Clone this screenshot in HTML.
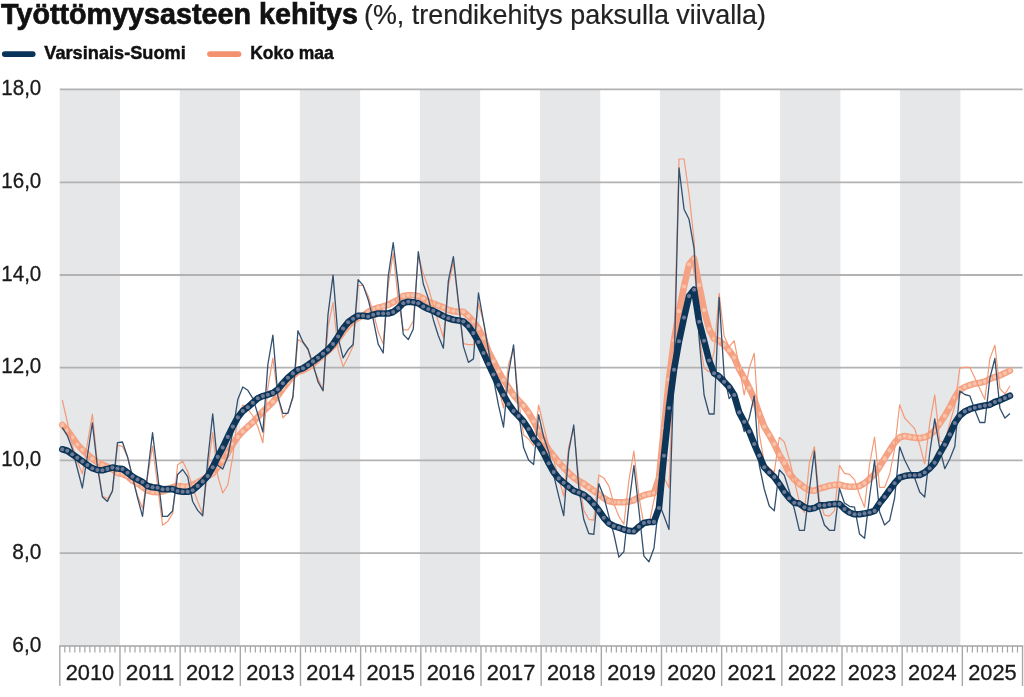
<!DOCTYPE html>
<html><head><meta charset="utf-8"><style>
html,body{margin:0;padding:0;background:#fff;width:1024px;height:697px;overflow:hidden}
svg{display:block;will-change:transform}
text{font-family:"Liberation Sans",sans-serif;fill:#111}
.t1{font-weight:bold;font-size:28.8px;stroke:#111;stroke-width:0.7px}
.t2{font-size:28px;fill:#222;stroke:#222;stroke-width:0.2px}
.lg{font-weight:bold;font-size:18.6px;stroke:#111;stroke-width:0.45px}
.yl{font-size:22px;fill:#1a1a1a;stroke:#1a1a1a;stroke-width:0.3px}
.xl{font-size:22px;fill:#1a1a1a;stroke:#1a1a1a;stroke-width:0.3px}
</style></head><body>
<svg width="1024" height="697" viewBox="0 0 1024 697">
<rect x="59.70" y="89.6" width="60.3" height="556.30" fill="#e6e7e9"/>
<rect x="179.76" y="89.6" width="60.3" height="556.30" fill="#e6e7e9"/>
<rect x="299.82" y="89.6" width="60.3" height="556.30" fill="#e6e7e9"/>
<rect x="419.88" y="89.6" width="60.3" height="556.30" fill="#e6e7e9"/>
<rect x="539.94" y="89.6" width="60.3" height="556.30" fill="#e6e7e9"/>
<rect x="660.00" y="89.6" width="60.3" height="556.30" fill="#e6e7e9"/>
<rect x="780.06" y="89.6" width="60.3" height="556.30" fill="#e6e7e9"/>
<rect x="900.12" y="89.6" width="60.3" height="556.30" fill="#e6e7e9"/>
<line x1="59.8" y1="89.43" x2="1022.6" y2="89.43" stroke="#b2b2b2" stroke-width="1.8"/>
<line x1="59.8" y1="182.4" x2="1022.6" y2="182.4" stroke="#b2b2b2" stroke-width="1.8"/>
<line x1="59.8" y1="275.0" x2="1022.6" y2="275.0" stroke="#b2b2b2" stroke-width="1.8"/>
<line x1="59.8" y1="367.64" x2="1022.6" y2="367.64" stroke="#b2b2b2" stroke-width="1.8"/>
<line x1="59.8" y1="460.43" x2="1022.6" y2="460.43" stroke="#b2b2b2" stroke-width="1.8"/>
<line x1="59.8" y1="553.1" x2="1022.6" y2="553.1" stroke="#b2b2b2" stroke-width="1.8"/>
<text x="41.3" y="95.0" text-anchor="end" class="yl" textLength="40" lengthAdjust="spacingAndGlyphs">18,0</text>
<text x="41.3" y="188.0" text-anchor="end" class="yl" textLength="40" lengthAdjust="spacingAndGlyphs">16,0</text>
<text x="41.3" y="280.6" text-anchor="end" class="yl" textLength="40" lengthAdjust="spacingAndGlyphs">14,0</text>
<text x="41.3" y="373.2" text-anchor="end" class="yl" textLength="40" lengthAdjust="spacingAndGlyphs">12,0</text>
<text x="41.3" y="466.0" text-anchor="end" class="yl" textLength="40" lengthAdjust="spacingAndGlyphs">10,0</text>
<text x="41.3" y="558.7" text-anchor="end" class="yl" textLength="29" lengthAdjust="spacingAndGlyphs">8,0</text>
<text x="41.3" y="651.5" text-anchor="end" class="yl" textLength="29" lengthAdjust="spacingAndGlyphs">6,0</text>
<line x1="59.1" y1="645.9" x2="1023.3" y2="645.9" stroke="#a4a4a4" stroke-width="1.5"/>
<path d="M64.81,645.9 V652.6 M69.83,645.9 V652.6 M74.84,645.9 V652.6 M79.86,645.9 V652.6 M84.87,645.9 V652.6 M89.88,645.9 V652.6 M94.90,645.9 V652.6 M99.91,645.9 V652.6 M104.93,645.9 V652.6 M109.94,645.9 V652.6 M114.95,645.9 V652.6 M124.98,645.9 V652.6 M130.00,645.9 V652.6 M135.01,645.9 V652.6 M140.03,645.9 V652.6 M145.04,645.9 V652.6 M150.05,645.9 V652.6 M155.07,645.9 V652.6 M160.08,645.9 V652.6 M165.10,645.9 V652.6 M170.11,645.9 V652.6 M175.12,645.9 V652.6 M185.15,645.9 V652.6 M190.17,645.9 V652.6 M195.18,645.9 V652.6 M200.20,645.9 V652.6 M205.21,645.9 V652.6 M210.22,645.9 V652.6 M215.24,645.9 V652.6 M220.25,645.9 V652.6 M225.27,645.9 V652.6 M230.28,645.9 V652.6 M235.29,645.9 V652.6 M245.32,645.9 V652.6 M250.34,645.9 V652.6 M255.35,645.9 V652.6 M260.37,645.9 V652.6 M265.38,645.9 V652.6 M270.39,645.9 V652.6 M275.41,645.9 V652.6 M280.42,645.9 V652.6 M285.44,645.9 V652.6 M290.45,645.9 V652.6 M295.46,645.9 V652.6 M305.49,645.9 V652.6 M310.51,645.9 V652.6 M315.52,645.9 V652.6 M320.54,645.9 V652.6 M325.55,645.9 V652.6 M330.56,645.9 V652.6 M335.58,645.9 V652.6 M340.59,645.9 V652.6 M345.61,645.9 V652.6 M350.62,645.9 V652.6 M355.63,645.9 V652.6 M365.66,645.9 V652.6 M370.68,645.9 V652.6 M375.69,645.9 V652.6 M380.71,645.9 V652.6 M385.72,645.9 V652.6 M390.73,645.9 V652.6 M395.75,645.9 V652.6 M400.76,645.9 V652.6 M405.78,645.9 V652.6 M410.79,645.9 V652.6 M415.80,645.9 V652.6 M425.83,645.9 V652.6 M430.85,645.9 V652.6 M435.86,645.9 V652.6 M440.88,645.9 V652.6 M445.89,645.9 V652.6 M450.90,645.9 V652.6 M455.92,645.9 V652.6 M460.93,645.9 V652.6 M465.95,645.9 V652.6 M470.96,645.9 V652.6 M475.97,645.9 V652.6 M486.00,645.9 V652.6 M491.02,645.9 V652.6 M496.03,645.9 V652.6 M501.05,645.9 V652.6 M506.06,645.9 V652.6 M511.07,645.9 V652.6 M516.09,645.9 V652.6 M521.10,645.9 V652.6 M526.12,645.9 V652.6 M531.13,645.9 V652.6 M536.14,645.9 V652.6 M546.17,645.9 V652.6 M551.19,645.9 V652.6 M556.20,645.9 V652.6 M561.22,645.9 V652.6 M566.23,645.9 V652.6 M571.24,645.9 V652.6 M576.26,645.9 V652.6 M581.27,645.9 V652.6 M586.29,645.9 V652.6 M591.30,645.9 V652.6 M596.31,645.9 V652.6 M606.34,645.9 V652.6 M611.36,645.9 V652.6 M616.37,645.9 V652.6 M621.39,645.9 V652.6 M626.40,645.9 V652.6 M631.41,645.9 V652.6 M636.43,645.9 V652.6 M641.44,645.9 V652.6 M646.46,645.9 V652.6 M651.47,645.9 V652.6 M656.48,645.9 V652.6 M666.51,645.9 V652.6 M671.53,645.9 V652.6 M676.54,645.9 V652.6 M681.56,645.9 V652.6 M686.57,645.9 V652.6 M691.58,645.9 V652.6 M696.60,645.9 V652.6 M701.61,645.9 V652.6 M706.63,645.9 V652.6 M711.64,645.9 V652.6 M716.65,645.9 V652.6 M726.68,645.9 V652.6 M731.70,645.9 V652.6 M736.71,645.9 V652.6 M741.73,645.9 V652.6 M746.74,645.9 V652.6 M751.75,645.9 V652.6 M756.77,645.9 V652.6 M761.78,645.9 V652.6 M766.80,645.9 V652.6 M771.81,645.9 V652.6 M776.82,645.9 V652.6 M786.85,645.9 V652.6 M791.87,645.9 V652.6 M796.88,645.9 V652.6 M801.90,645.9 V652.6 M806.91,645.9 V652.6 M811.92,645.9 V652.6 M816.94,645.9 V652.6 M821.95,645.9 V652.6 M826.97,645.9 V652.6 M831.98,645.9 V652.6 M836.99,645.9 V652.6 M847.02,645.9 V652.6 M852.04,645.9 V652.6 M857.05,645.9 V652.6 M862.07,645.9 V652.6 M867.08,645.9 V652.6 M872.09,645.9 V652.6 M877.11,645.9 V652.6 M882.12,645.9 V652.6 M887.14,645.9 V652.6 M892.15,645.9 V652.6 M897.16,645.9 V652.6 M907.19,645.9 V652.6 M912.21,645.9 V652.6 M917.22,645.9 V652.6 M922.24,645.9 V652.6 M927.25,645.9 V652.6 M932.26,645.9 V652.6 M937.28,645.9 V652.6 M942.29,645.9 V652.6 M947.31,645.9 V652.6 M952.32,645.9 V652.6 M957.33,645.9 V652.6 M967.36,645.9 V652.6 M972.38,645.9 V652.6 M977.39,645.9 V652.6 M982.41,645.9 V652.6 M987.42,645.9 V652.6 M992.43,645.9 V652.6 M997.45,645.9 V652.6 M1002.46,645.9 V652.6 M1007.48,645.9 V652.6 M1012.49,645.9 V652.6 M1017.50,645.9 V652.6" stroke="#a6a6a6" stroke-width="1.2" fill="none"/>
<path d="M59.80,645.9 V686 M119.97,645.9 V686 M180.14,645.9 V686 M240.31,645.9 V686 M300.48,645.9 V686 M360.65,645.9 V686 M420.82,645.9 V686 M480.99,645.9 V686 M541.16,645.9 V686 M601.33,645.9 V686 M661.50,645.9 V686 M721.67,645.9 V686 M781.84,645.9 V686 M842.01,645.9 V686 M902.18,645.9 V686 M962.35,645.9 V686 M1022.52,645.9 V686" stroke="#a8a8a8" stroke-width="1.4" fill="none"/>
<text x="89.9" y="679.7" text-anchor="middle" class="xl" textLength="48.5" lengthAdjust="spacingAndGlyphs">2010</text>
<text x="150.1" y="679.7" text-anchor="middle" class="xl" textLength="48.5" lengthAdjust="spacingAndGlyphs">2011</text>
<text x="210.2" y="679.7" text-anchor="middle" class="xl" textLength="48.5" lengthAdjust="spacingAndGlyphs">2012</text>
<text x="270.4" y="679.7" text-anchor="middle" class="xl" textLength="48.5" lengthAdjust="spacingAndGlyphs">2013</text>
<text x="330.6" y="679.7" text-anchor="middle" class="xl" textLength="48.5" lengthAdjust="spacingAndGlyphs">2014</text>
<text x="390.7" y="679.7" text-anchor="middle" class="xl" textLength="48.5" lengthAdjust="spacingAndGlyphs">2015</text>
<text x="450.9" y="679.7" text-anchor="middle" class="xl" textLength="48.5" lengthAdjust="spacingAndGlyphs">2016</text>
<text x="511.1" y="679.7" text-anchor="middle" class="xl" textLength="48.5" lengthAdjust="spacingAndGlyphs">2017</text>
<text x="571.2" y="679.7" text-anchor="middle" class="xl" textLength="48.5" lengthAdjust="spacingAndGlyphs">2018</text>
<text x="631.4" y="679.7" text-anchor="middle" class="xl" textLength="48.5" lengthAdjust="spacingAndGlyphs">2019</text>
<text x="691.6" y="679.7" text-anchor="middle" class="xl" textLength="48.5" lengthAdjust="spacingAndGlyphs">2020</text>
<text x="751.8" y="679.7" text-anchor="middle" class="xl" textLength="48.5" lengthAdjust="spacingAndGlyphs">2021</text>
<text x="811.9" y="679.7" text-anchor="middle" class="xl" textLength="48.5" lengthAdjust="spacingAndGlyphs">2022</text>
<text x="872.1" y="679.7" text-anchor="middle" class="xl" textLength="48.5" lengthAdjust="spacingAndGlyphs">2023</text>
<text x="932.3" y="679.7" text-anchor="middle" class="xl" textLength="48.5" lengthAdjust="spacingAndGlyphs">2024</text>
<text x="992.4" y="679.7" text-anchor="middle" class="xl" textLength="48.5" lengthAdjust="spacingAndGlyphs">2025</text>
<path d="M62.30,424.90 L67.31,430.20 L72.33,437.40 L77.34,444.50 L82.36,449.80 L87.37,454.30 L92.38,458.70 L97.40,462.30 L102.41,465.00 L107.43,466.70 L112.44,469.40 L117.45,473.00 L122.47,474.00 L127.48,476.30 L132.50,480.70 L137.51,483.40 L142.52,486.90 L147.54,490.50 L152.55,491.90 L157.57,492.30 L162.58,491.40 L167.59,489.60 L172.61,487.30 L177.62,486.00 L182.64,486.50 L187.65,486.70 L192.66,485.00 L197.68,482.30 L202.69,479.60 L207.71,476.10 L212.72,473.40 L217.73,467.20 L222.75,460.90 L227.76,452.90 L232.78,444.00 L237.79,436.90 L242.80,431.40 L247.82,426.70 L252.83,422.30 L257.85,417.00 L262.86,411.60 L267.87,406.80 L272.89,401.80 L277.90,395.60 L282.92,388.50 L287.93,382.30 L292.94,376.00 L297.96,371.60 L302.97,370.50 L307.99,367.60 L313.00,364.10 L318.01,359.60 L323.03,355.20 L328.04,350.70 L333.06,346.30 L338.07,339.20 L343.08,332.00 L348.10,325.80 L353.11,321.40 L358.13,317.80 L363.14,315.80 L368.15,312.00 L373.17,309.40 L378.18,307.60 L383.20,306.40 L388.21,304.90 L393.22,302.30 L398.24,299.60 L403.25,296.00 L408.27,295.20 L413.28,295.20 L418.29,296.00 L423.31,298.50 L428.32,301.90 L433.34,303.70 L438.35,305.50 L443.36,307.30 L448.38,309.90 L453.39,311.20 L458.41,311.70 L463.42,311.70 L468.43,316.20 L473.45,321.50 L478.46,328.60 L483.48,338.00 L488.49,351.50 L493.50,361.30 L498.52,371.30 L503.53,380.00 L508.55,387.70 L513.56,395.00 L518.57,400.60 L523.59,405.80 L528.60,412.60 L533.62,421.30 L538.63,431.00 L543.64,440.80 L548.66,449.90 L553.67,456.10 L558.69,462.40 L563.70,467.70 L568.71,473.00 L573.73,477.50 L578.74,481.00 L583.76,483.70 L588.77,487.30 L593.78,490.80 L598.80,494.40 L603.81,498.20 L608.83,501.00 L613.84,502.30 L618.85,502.30 L623.87,502.30 L628.88,501.60 L633.90,500.20 L638.91,497.50 L643.92,495.30 L648.94,493.90 L653.95,493.00 L658.97,478.00 L663.98,428.00 L668.99,379.50 L674.01,340.30 L679.02,311.20 L684.04,286.50 L689.05,264.40 L694.06,258.50 L699.08,285.20 L704.09,310.20 L709.11,329.00 L714.12,338.60 L719.13,340.80 L724.15,344.80 L729.16,350.40 L734.18,357.50 L739.19,369.20 L744.20,378.10 L749.22,387.90 L754.23,399.00 L759.25,413.80 L764.26,426.60 L769.27,435.10 L774.29,444.00 L779.30,454.70 L784.32,463.00 L789.33,473.40 L794.34,479.60 L799.36,483.70 L804.37,487.60 L809.39,490.30 L814.40,490.80 L819.41,488.50 L824.43,487.20 L829.44,485.80 L834.46,484.90 L839.47,484.70 L844.48,486.00 L849.50,486.70 L854.51,486.70 L859.53,486.00 L864.54,483.20 L869.55,479.00 L874.57,474.00 L879.58,466.80 L884.60,458.40 L889.61,450.40 L894.62,442.80 L899.64,437.40 L904.65,436.00 L909.67,436.90 L914.68,437.80 L919.69,438.20 L924.71,437.20 L929.72,435.10 L934.74,430.50 L939.75,423.40 L944.76,415.90 L949.78,407.00 L954.79,397.60 L959.81,389.90 L964.82,387.00 L969.83,385.20 L974.85,383.70 L979.86,382.80 L984.88,381.60 L989.89,378.90 L994.90,377.10 L999.92,375.40 L1004.93,373.10 L1009.95,370.60" stroke="#f4a283" stroke-width="6.6" fill="none" stroke-linejoin="round" stroke-linecap="round"/>
<g fill="#f8c3aa"><circle cx="62.3" cy="424.9" r="2.1"/><circle cx="67.3" cy="430.2" r="2.1"/><circle cx="72.3" cy="437.4" r="2.1"/><circle cx="77.3" cy="444.5" r="2.1"/><circle cx="82.4" cy="449.8" r="2.1"/><circle cx="87.4" cy="454.3" r="2.1"/><circle cx="92.4" cy="458.7" r="2.1"/><circle cx="97.4" cy="462.3" r="2.1"/><circle cx="102.4" cy="465.0" r="2.1"/><circle cx="107.4" cy="466.7" r="2.1"/><circle cx="112.4" cy="469.4" r="2.1"/><circle cx="117.5" cy="473.0" r="2.1"/><circle cx="122.5" cy="474.0" r="2.1"/><circle cx="127.5" cy="476.3" r="2.1"/><circle cx="132.5" cy="480.7" r="2.1"/><circle cx="137.5" cy="483.4" r="2.1"/><circle cx="142.5" cy="486.9" r="2.1"/><circle cx="147.5" cy="490.5" r="2.1"/><circle cx="152.6" cy="491.9" r="2.1"/><circle cx="157.6" cy="492.3" r="2.1"/><circle cx="162.6" cy="491.4" r="2.1"/><circle cx="167.6" cy="489.6" r="2.1"/><circle cx="172.6" cy="487.3" r="2.1"/><circle cx="177.6" cy="486.0" r="2.1"/><circle cx="182.6" cy="486.5" r="2.1"/><circle cx="187.7" cy="486.7" r="2.1"/><circle cx="192.7" cy="485.0" r="2.1"/><circle cx="197.7" cy="482.3" r="2.1"/><circle cx="202.7" cy="479.6" r="2.1"/><circle cx="207.7" cy="476.1" r="2.1"/><circle cx="212.7" cy="473.4" r="2.1"/><circle cx="217.7" cy="467.2" r="2.1"/><circle cx="222.7" cy="460.9" r="2.1"/><circle cx="227.8" cy="452.9" r="2.1"/><circle cx="232.8" cy="444.0" r="2.1"/><circle cx="237.8" cy="436.9" r="2.1"/><circle cx="242.8" cy="431.4" r="2.1"/><circle cx="247.8" cy="426.7" r="2.1"/><circle cx="252.8" cy="422.3" r="2.1"/><circle cx="257.8" cy="417.0" r="2.1"/><circle cx="262.9" cy="411.6" r="2.1"/><circle cx="267.9" cy="406.8" r="2.1"/><circle cx="272.9" cy="401.8" r="2.1"/><circle cx="277.9" cy="395.6" r="2.1"/><circle cx="282.9" cy="388.5" r="2.1"/><circle cx="287.9" cy="382.3" r="2.1"/><circle cx="292.9" cy="376.0" r="2.1"/><circle cx="298.0" cy="371.6" r="2.1"/><circle cx="303.0" cy="370.5" r="2.1"/><circle cx="308.0" cy="367.6" r="2.1"/><circle cx="313.0" cy="364.1" r="2.1"/><circle cx="318.0" cy="359.6" r="2.1"/><circle cx="323.0" cy="355.2" r="2.1"/><circle cx="328.0" cy="350.7" r="2.1"/><circle cx="333.1" cy="346.3" r="2.1"/><circle cx="338.1" cy="339.2" r="2.1"/><circle cx="343.1" cy="332.0" r="2.1"/><circle cx="348.1" cy="325.8" r="2.1"/><circle cx="353.1" cy="321.4" r="2.1"/><circle cx="358.1" cy="317.8" r="2.1"/><circle cx="363.1" cy="315.8" r="2.1"/><circle cx="368.2" cy="312.0" r="2.1"/><circle cx="373.2" cy="309.4" r="2.1"/><circle cx="378.2" cy="307.6" r="2.1"/><circle cx="383.2" cy="306.4" r="2.1"/><circle cx="388.2" cy="304.9" r="2.1"/><circle cx="393.2" cy="302.3" r="2.1"/><circle cx="398.2" cy="299.6" r="2.1"/><circle cx="403.3" cy="296.0" r="2.1"/><circle cx="408.3" cy="295.2" r="2.1"/><circle cx="413.3" cy="295.2" r="2.1"/><circle cx="418.3" cy="296.0" r="2.1"/><circle cx="423.3" cy="298.5" r="2.1"/><circle cx="428.3" cy="301.9" r="2.1"/><circle cx="433.3" cy="303.7" r="2.1"/><circle cx="438.4" cy="305.5" r="2.1"/><circle cx="443.4" cy="307.3" r="2.1"/><circle cx="448.4" cy="309.9" r="2.1"/><circle cx="453.4" cy="311.2" r="2.1"/><circle cx="458.4" cy="311.7" r="2.1"/><circle cx="463.4" cy="311.7" r="2.1"/><circle cx="468.4" cy="316.2" r="2.1"/><circle cx="473.4" cy="321.5" r="2.1"/><circle cx="478.5" cy="328.6" r="2.1"/><circle cx="483.5" cy="338.0" r="2.1"/><circle cx="488.5" cy="351.5" r="2.1"/><circle cx="493.5" cy="361.3" r="2.1"/><circle cx="498.5" cy="371.3" r="2.1"/><circle cx="503.5" cy="380.0" r="2.1"/><circle cx="508.5" cy="387.7" r="2.1"/><circle cx="513.6" cy="395.0" r="2.1"/><circle cx="518.6" cy="400.6" r="2.1"/><circle cx="523.6" cy="405.8" r="2.1"/><circle cx="528.6" cy="412.6" r="2.1"/><circle cx="533.6" cy="421.3" r="2.1"/><circle cx="538.6" cy="431.0" r="2.1"/><circle cx="543.6" cy="440.8" r="2.1"/><circle cx="548.7" cy="449.9" r="2.1"/><circle cx="553.7" cy="456.1" r="2.1"/><circle cx="558.7" cy="462.4" r="2.1"/><circle cx="563.7" cy="467.7" r="2.1"/><circle cx="568.7" cy="473.0" r="2.1"/><circle cx="573.7" cy="477.5" r="2.1"/><circle cx="578.7" cy="481.0" r="2.1"/><circle cx="583.8" cy="483.7" r="2.1"/><circle cx="588.8" cy="487.3" r="2.1"/><circle cx="593.8" cy="490.8" r="2.1"/><circle cx="598.8" cy="494.4" r="2.1"/><circle cx="603.8" cy="498.2" r="2.1"/><circle cx="608.8" cy="501.0" r="2.1"/><circle cx="613.8" cy="502.3" r="2.1"/><circle cx="618.9" cy="502.3" r="2.1"/><circle cx="623.9" cy="502.3" r="2.1"/><circle cx="628.9" cy="501.6" r="2.1"/><circle cx="633.9" cy="500.2" r="2.1"/><circle cx="638.9" cy="497.5" r="2.1"/><circle cx="643.9" cy="495.3" r="2.1"/><circle cx="648.9" cy="493.9" r="2.1"/><circle cx="654.0" cy="493.0" r="2.1"/><circle cx="659.0" cy="478.0" r="2.1"/><circle cx="664.0" cy="428.0" r="2.1"/><circle cx="669.0" cy="379.5" r="2.1"/><circle cx="674.0" cy="340.3" r="2.1"/><circle cx="679.0" cy="311.2" r="2.1"/><circle cx="684.0" cy="286.5" r="2.1"/><circle cx="689.0" cy="264.4" r="2.1"/><circle cx="694.1" cy="258.5" r="2.1"/><circle cx="699.1" cy="285.2" r="2.1"/><circle cx="704.1" cy="310.2" r="2.1"/><circle cx="709.1" cy="329.0" r="2.1"/><circle cx="714.1" cy="338.6" r="2.1"/><circle cx="719.1" cy="340.8" r="2.1"/><circle cx="724.1" cy="344.8" r="2.1"/><circle cx="729.2" cy="350.4" r="2.1"/><circle cx="734.2" cy="357.5" r="2.1"/><circle cx="739.2" cy="369.2" r="2.1"/><circle cx="744.2" cy="378.1" r="2.1"/><circle cx="749.2" cy="387.9" r="2.1"/><circle cx="754.2" cy="399.0" r="2.1"/><circle cx="759.2" cy="413.8" r="2.1"/><circle cx="764.3" cy="426.6" r="2.1"/><circle cx="769.3" cy="435.1" r="2.1"/><circle cx="774.3" cy="444.0" r="2.1"/><circle cx="779.3" cy="454.7" r="2.1"/><circle cx="784.3" cy="463.0" r="2.1"/><circle cx="789.3" cy="473.4" r="2.1"/><circle cx="794.3" cy="479.6" r="2.1"/><circle cx="799.4" cy="483.7" r="2.1"/><circle cx="804.4" cy="487.6" r="2.1"/><circle cx="809.4" cy="490.3" r="2.1"/><circle cx="814.4" cy="490.8" r="2.1"/><circle cx="819.4" cy="488.5" r="2.1"/><circle cx="824.4" cy="487.2" r="2.1"/><circle cx="829.4" cy="485.8" r="2.1"/><circle cx="834.5" cy="484.9" r="2.1"/><circle cx="839.5" cy="484.7" r="2.1"/><circle cx="844.5" cy="486.0" r="2.1"/><circle cx="849.5" cy="486.7" r="2.1"/><circle cx="854.5" cy="486.7" r="2.1"/><circle cx="859.5" cy="486.0" r="2.1"/><circle cx="864.5" cy="483.2" r="2.1"/><circle cx="869.6" cy="479.0" r="2.1"/><circle cx="874.6" cy="474.0" r="2.1"/><circle cx="879.6" cy="466.8" r="2.1"/><circle cx="884.6" cy="458.4" r="2.1"/><circle cx="889.6" cy="450.4" r="2.1"/><circle cx="894.6" cy="442.8" r="2.1"/><circle cx="899.6" cy="437.4" r="2.1"/><circle cx="904.7" cy="436.0" r="2.1"/><circle cx="909.7" cy="436.9" r="2.1"/><circle cx="914.7" cy="437.8" r="2.1"/><circle cx="919.7" cy="438.2" r="2.1"/><circle cx="924.7" cy="437.2" r="2.1"/><circle cx="929.7" cy="435.1" r="2.1"/><circle cx="934.7" cy="430.5" r="2.1"/><circle cx="939.8" cy="423.4" r="2.1"/><circle cx="944.8" cy="415.9" r="2.1"/><circle cx="949.8" cy="407.0" r="2.1"/><circle cx="954.8" cy="397.6" r="2.1"/><circle cx="959.8" cy="389.9" r="2.1"/><circle cx="964.8" cy="387.0" r="2.1"/><circle cx="969.8" cy="385.2" r="2.1"/><circle cx="974.8" cy="383.7" r="2.1"/><circle cx="979.9" cy="382.8" r="2.1"/><circle cx="984.9" cy="381.6" r="2.1"/><circle cx="989.9" cy="378.9" r="2.1"/><circle cx="994.9" cy="377.1" r="2.1"/><circle cx="999.9" cy="375.4" r="2.1"/><circle cx="1004.9" cy="373.1" r="2.1"/><circle cx="1009.9" cy="370.6" r="2.1"/></g>
<path d="M62.30,400.00 L67.31,422.00 L72.33,445.40 L77.34,461.40 L82.36,473.80 L87.37,443.60 L92.38,414.20 L97.40,463.20 L102.41,496.00 L107.43,498.80 L112.44,491.60 L117.45,445.40 L122.47,446.40 L127.48,456.70 L132.50,476.30 L137.51,495.80 L142.52,508.30 L147.54,477.10 L152.55,446.00 L157.57,485.50 L162.58,525.20 L167.59,521.60 L172.61,513.60 L177.62,464.70 L182.64,461.30 L187.65,471.30 L192.66,487.30 L197.68,501.50 L202.69,514.00 L207.71,469.50 L212.72,432.50 L217.73,476.00 L222.75,493.00 L227.76,485.00 L232.78,456.50 L237.79,415.60 L242.80,405.00 L247.82,409.00 L252.83,416.00 L257.85,426.70 L262.86,442.80 L267.87,387.60 L272.89,358.20 L277.90,396.50 L282.92,417.80 L287.93,412.50 L292.94,398.30 L297.96,339.60 L302.97,342.70 L307.99,349.80 L313.00,367.60 L318.01,378.30 L323.03,390.80 L328.04,326.70 L333.06,302.70 L338.07,349.80 L343.08,366.70 L348.10,357.00 L353.11,346.30 L358.13,285.50 L363.14,285.40 L368.15,296.00 L373.17,312.00 L378.18,331.60 L383.20,344.10 L388.21,285.40 L393.22,253.30 L398.24,299.60 L403.25,329.80 L408.27,329.80 L413.28,321.00 L418.29,256.00 L423.31,273.60 L428.32,287.70 L433.34,305.50 L438.35,321.50 L443.36,337.50 L448.38,285.90 L453.39,261.90 L458.41,303.70 L463.42,343.70 L468.43,344.60 L473.45,344.60 L478.46,303.70 L483.48,321.60 L488.49,346.70 L493.50,373.40 L498.52,387.60 L503.53,408.00 L508.55,364.50 L513.56,348.50 L518.57,400.00 L523.59,435.00 L528.60,439.00 L533.62,445.80 L538.63,405.00 L543.64,426.00 L548.66,446.30 L553.67,460.60 L558.69,478.40 L563.70,496.20 L568.71,446.30 L573.73,428.60 L578.74,478.40 L583.76,510.40 L588.77,519.30 L593.78,520.20 L598.80,475.00 L603.81,477.90 L608.83,485.90 L613.84,503.70 L618.85,516.20 L623.87,524.20 L628.88,480.60 L633.90,451.20 L638.91,496.60 L643.92,525.10 L648.94,525.10 L653.95,500.00 L658.97,480.00 L663.98,477.20 L668.99,488.00 L674.01,350.00 L679.02,159.00 L684.04,159.00 L689.05,194.20 L694.06,240.00 L699.08,335.00 L704.09,368.00 L709.11,372.00 L714.12,352.00 L719.13,293.40 L724.15,336.30 L729.16,346.90 L734.18,340.70 L739.19,366.50 L744.20,395.00 L749.22,368.30 L754.23,353.20 L759.25,433.40 L764.26,463.00 L769.27,468.00 L774.29,472.00 L779.30,437.40 L784.32,442.00 L789.33,459.10 L794.34,480.50 L799.36,501.80 L804.37,512.50 L809.39,462.70 L814.40,446.70 L819.41,500.00 L824.43,515.20 L829.44,516.10 L834.46,510.70 L839.47,465.40 L844.48,473.40 L849.50,474.30 L854.51,479.60 L859.53,494.70 L864.54,507.20 L869.55,464.50 L874.57,437.00 L879.58,487.30 L884.60,487.30 L889.61,474.50 L894.62,449.00 L899.64,404.70 L904.65,418.00 L909.67,423.40 L914.68,428.70 L919.69,444.70 L924.71,464.00 L929.72,423.40 L934.74,394.90 L939.75,441.20 L944.76,442.00 L949.78,423.40 L954.79,405.60 L959.81,368.20 L964.82,367.40 L969.83,367.40 L974.85,378.00 L979.86,388.70 L984.88,399.40 L989.89,358.50 L994.90,345.10 L999.92,388.70 L1004.93,394.00 L1009.95,386.00" stroke="#f49a78" stroke-width="1.2" fill="none" stroke-linejoin="round"/>
<path d="M62.30,427.60 L67.31,435.60 L72.33,449.00 L77.34,468.50 L82.36,488.00 L87.37,456.00 L92.38,423.00 L97.40,466.70 L102.41,497.00 L107.43,501.40 L112.44,490.80 L117.45,442.70 L122.47,442.00 L127.48,456.70 L132.50,477.10 L137.51,497.60 L142.52,516.30 L147.54,474.50 L152.55,432.70 L157.57,474.50 L162.58,516.30 L167.59,516.30 L172.61,511.00 L177.62,474.50 L182.64,469.50 L187.65,476.60 L192.66,501.50 L197.68,510.40 L202.69,515.70 L207.71,460.60 L212.72,413.80 L217.73,465.40 L222.75,469.00 L227.76,456.50 L232.78,431.60 L237.79,399.60 L242.80,387.00 L247.82,390.30 L252.83,398.30 L257.85,414.30 L262.86,432.10 L267.87,364.50 L272.89,335.10 L277.90,396.50 L282.92,413.40 L287.93,413.40 L292.94,396.50 L297.96,330.70 L302.97,342.00 L307.99,349.00 L313.00,364.10 L318.01,381.90 L323.03,390.80 L328.04,314.30 L333.06,275.10 L338.07,337.40 L343.08,357.80 L348.10,349.80 L353.11,344.50 L358.13,279.60 L363.14,285.40 L368.15,299.60 L373.17,319.20 L378.18,344.10 L383.20,353.00 L388.21,276.50 L393.22,242.70 L398.24,285.40 L403.25,334.30 L408.27,339.60 L413.28,329.00 L418.29,251.60 L423.31,284.00 L428.32,298.40 L433.34,319.70 L438.35,335.70 L443.36,348.20 L448.38,280.60 L453.39,256.60 L458.41,302.00 L463.42,346.40 L468.43,362.40 L473.45,358.90 L478.46,293.00 L483.48,321.60 L488.49,350.20 L493.50,378.70 L498.52,405.40 L503.53,427.00 L508.55,373.40 L513.56,344.90 L518.57,412.00 L523.59,447.60 L528.60,460.00 L533.62,464.50 L538.63,414.70 L543.64,437.00 L548.66,451.70 L553.67,474.80 L558.69,496.20 L563.70,515.70 L568.71,451.70 L573.73,425.00 L578.74,487.30 L583.76,519.30 L588.77,533.50 L593.78,534.40 L598.80,483.70 L603.81,496.60 L608.83,516.20 L613.84,534.00 L618.85,557.10 L623.87,551.70 L628.88,505.00 L633.90,465.50 L638.91,510.00 L643.92,556.10 L648.94,561.80 L653.95,548.20 L658.97,503.00 L663.98,516.00 L668.99,529.50 L674.01,371.00 L679.02,168.00 L684.04,209.20 L689.05,219.30 L694.06,248.40 L699.08,338.00 L704.09,395.00 L709.11,414.00 L714.12,414.00 L719.13,297.40 L724.15,375.40 L729.16,398.60 L734.18,393.00 L739.19,412.00 L744.20,431.60 L749.22,418.00 L754.23,396.00 L759.25,465.00 L764.26,489.00 L769.27,506.00 L774.29,510.70 L779.30,469.80 L784.32,475.20 L789.33,491.20 L794.34,509.00 L799.36,530.30 L804.37,530.30 L809.39,490.00 L814.40,451.10 L819.41,509.00 L824.43,525.00 L829.44,530.30 L834.46,530.30 L839.47,488.50 L844.48,503.00 L849.50,506.30 L854.51,507.20 L859.53,533.90 L864.54,538.30 L869.55,497.00 L874.57,460.50 L879.58,512.00 L884.60,525.00 L889.61,520.60 L894.62,498.00 L899.64,446.80 L904.65,460.00 L909.67,470.00 L914.68,478.00 L919.69,492.00 L924.71,497.00 L929.72,453.00 L934.74,418.90 L939.75,448.30 L944.76,468.70 L949.78,459.00 L954.79,446.50 L959.81,391.00 L964.82,394.50 L969.83,395.80 L974.85,410.10 L979.86,422.50 L984.88,422.50 L989.89,378.00 L994.90,358.50 L999.92,408.30 L1004.93,418.10 L1009.95,413.60" stroke="#33506e" stroke-width="1.3" fill="none" stroke-linejoin="round"/>
<path d="M62.30,449.30 L67.31,450.70 L72.33,454.30 L77.34,457.80 L82.36,461.40 L87.37,465.00 L92.38,468.20 L97.40,470.00 L102.41,470.30 L107.43,468.90 L112.44,467.60 L117.45,468.50 L122.47,469.00 L127.48,472.70 L132.50,476.60 L137.51,479.50 L142.52,482.00 L147.54,486.00 L152.55,487.30 L157.57,487.80 L162.58,489.20 L167.59,489.10 L172.61,489.10 L177.62,491.00 L182.64,491.70 L187.65,491.70 L192.66,490.30 L197.68,485.90 L202.69,481.40 L207.71,476.10 L212.72,467.20 L217.73,456.90 L222.75,447.60 L227.76,436.90 L232.78,426.60 L237.79,417.40 L242.80,411.00 L247.82,407.20 L252.83,402.70 L257.85,398.30 L262.86,396.10 L267.87,394.70 L272.89,392.90 L277.90,389.40 L282.92,383.20 L287.93,377.80 L292.94,373.40 L297.96,369.80 L302.97,368.30 L307.99,365.00 L313.00,361.40 L318.01,357.80 L323.03,353.70 L328.04,349.80 L333.06,344.10 L338.07,336.50 L343.08,328.50 L348.10,322.30 L353.11,318.70 L358.13,315.70 L363.14,315.70 L368.15,316.50 L373.17,314.70 L378.18,313.50 L383.20,313.50 L388.21,313.50 L393.22,312.00 L398.24,308.10 L403.25,303.20 L408.27,301.70 L413.28,302.30 L418.29,303.20 L423.31,306.50 L428.32,309.00 L433.34,310.80 L438.35,313.50 L443.36,316.20 L448.38,318.30 L453.39,319.70 L458.41,320.60 L463.42,321.50 L468.43,326.00 L473.45,333.10 L478.46,342.00 L483.48,353.00 L488.49,364.00 L493.50,374.50 L498.52,385.00 L503.53,395.00 L508.55,404.00 L513.56,411.00 L518.57,416.00 L523.59,421.50 L528.60,429.00 L533.62,438.50 L538.63,444.30 L543.64,453.00 L548.66,463.20 L553.67,472.10 L558.69,478.40 L563.70,482.80 L568.71,486.90 L573.73,490.80 L578.74,492.60 L583.76,494.70 L588.77,498.80 L593.78,504.20 L598.80,510.40 L603.81,517.70 L608.83,523.30 L613.84,526.00 L618.85,527.70 L623.87,529.50 L628.88,530.90 L633.90,531.30 L638.91,526.80 L643.92,523.00 L648.94,522.00 L653.95,521.90 L658.97,508.00 L663.98,455.80 L668.99,408.00 L674.01,369.80 L679.02,341.30 L684.04,317.60 L689.05,296.10 L694.06,289.80 L699.08,321.80 L704.09,340.80 L709.11,360.50 L714.12,373.30 L719.13,376.60 L724.15,381.70 L729.16,387.00 L734.18,395.00 L739.19,412.40 L744.20,421.80 L749.22,431.60 L754.23,444.00 L759.25,455.60 L764.26,467.20 L769.27,472.50 L774.29,477.00 L779.30,484.10 L784.32,492.00 L789.33,498.30 L794.34,502.70 L799.36,503.60 L804.37,507.20 L809.39,509.00 L814.40,508.10 L819.41,505.40 L824.43,505.40 L829.44,504.50 L834.46,504.00 L839.47,504.00 L844.48,509.00 L849.50,512.50 L854.51,514.30 L859.53,514.30 L864.54,513.40 L869.55,512.50 L874.57,510.90 L879.58,503.30 L884.60,497.00 L889.61,490.00 L894.62,483.30 L899.64,477.70 L904.65,476.00 L909.67,475.20 L914.68,475.30 L919.69,475.00 L924.71,472.50 L929.72,468.30 L934.74,462.70 L939.75,453.30 L944.76,444.70 L949.78,434.40 L954.79,423.00 L959.81,415.70 L964.82,411.40 L969.83,409.20 L974.85,407.70 L979.86,406.50 L984.88,405.60 L989.89,404.70 L994.90,402.00 L999.92,400.30 L1004.93,398.10 L1009.95,395.80" stroke="#0c3557" stroke-width="6.6" fill="none" stroke-linejoin="round" stroke-linecap="round"/>
<g fill="#6d7b98"><circle cx="62.3" cy="449.3" r="2.05"/><circle cx="67.3" cy="450.7" r="2.05"/><circle cx="72.3" cy="454.3" r="2.05"/><circle cx="77.3" cy="457.8" r="2.05"/><circle cx="82.4" cy="461.4" r="2.05"/><circle cx="87.4" cy="465.0" r="2.05"/><circle cx="92.4" cy="468.2" r="2.05"/><circle cx="97.4" cy="470.0" r="2.05"/><circle cx="102.4" cy="470.3" r="2.05"/><circle cx="107.4" cy="468.9" r="2.05"/><circle cx="112.4" cy="467.6" r="2.05"/><circle cx="117.5" cy="468.5" r="2.05"/><circle cx="122.5" cy="469.0" r="2.05"/><circle cx="127.5" cy="472.7" r="2.05"/><circle cx="132.5" cy="476.6" r="2.05"/><circle cx="137.5" cy="479.5" r="2.05"/><circle cx="142.5" cy="482.0" r="2.05"/><circle cx="147.5" cy="486.0" r="2.05"/><circle cx="152.6" cy="487.3" r="2.05"/><circle cx="157.6" cy="487.8" r="2.05"/><circle cx="162.6" cy="489.2" r="2.05"/><circle cx="167.6" cy="489.1" r="2.05"/><circle cx="172.6" cy="489.1" r="2.05"/><circle cx="177.6" cy="491.0" r="2.05"/><circle cx="182.6" cy="491.7" r="2.05"/><circle cx="187.7" cy="491.7" r="2.05"/><circle cx="192.7" cy="490.3" r="2.05"/><circle cx="197.7" cy="485.9" r="2.05"/><circle cx="202.7" cy="481.4" r="2.05"/><circle cx="207.7" cy="476.1" r="2.05"/><circle cx="212.7" cy="467.2" r="2.05"/><circle cx="217.7" cy="456.9" r="2.05"/><circle cx="222.7" cy="447.6" r="2.05"/><circle cx="227.8" cy="436.9" r="2.05"/><circle cx="232.8" cy="426.6" r="2.05"/><circle cx="237.8" cy="417.4" r="2.05"/><circle cx="242.8" cy="411.0" r="2.05"/><circle cx="247.8" cy="407.2" r="2.05"/><circle cx="252.8" cy="402.7" r="2.05"/><circle cx="257.8" cy="398.3" r="2.05"/><circle cx="262.9" cy="396.1" r="2.05"/><circle cx="267.9" cy="394.7" r="2.05"/><circle cx="272.9" cy="392.9" r="2.05"/><circle cx="277.9" cy="389.4" r="2.05"/><circle cx="282.9" cy="383.2" r="2.05"/><circle cx="287.9" cy="377.8" r="2.05"/><circle cx="292.9" cy="373.4" r="2.05"/><circle cx="298.0" cy="369.8" r="2.05"/><circle cx="303.0" cy="368.3" r="2.05"/><circle cx="308.0" cy="365.0" r="2.05"/><circle cx="313.0" cy="361.4" r="2.05"/><circle cx="318.0" cy="357.8" r="2.05"/><circle cx="323.0" cy="353.7" r="2.05"/><circle cx="328.0" cy="349.8" r="2.05"/><circle cx="333.1" cy="344.1" r="2.05"/><circle cx="338.1" cy="336.5" r="2.05"/><circle cx="343.1" cy="328.5" r="2.05"/><circle cx="348.1" cy="322.3" r="2.05"/><circle cx="353.1" cy="318.7" r="2.05"/><circle cx="358.1" cy="315.7" r="2.05"/><circle cx="363.1" cy="315.7" r="2.05"/><circle cx="368.2" cy="316.5" r="2.05"/><circle cx="373.2" cy="314.7" r="2.05"/><circle cx="378.2" cy="313.5" r="2.05"/><circle cx="383.2" cy="313.5" r="2.05"/><circle cx="388.2" cy="313.5" r="2.05"/><circle cx="393.2" cy="312.0" r="2.05"/><circle cx="398.2" cy="308.1" r="2.05"/><circle cx="403.3" cy="303.2" r="2.05"/><circle cx="408.3" cy="301.7" r="2.05"/><circle cx="413.3" cy="302.3" r="2.05"/><circle cx="418.3" cy="303.2" r="2.05"/><circle cx="423.3" cy="306.5" r="2.05"/><circle cx="428.3" cy="309.0" r="2.05"/><circle cx="433.3" cy="310.8" r="2.05"/><circle cx="438.4" cy="313.5" r="2.05"/><circle cx="443.4" cy="316.2" r="2.05"/><circle cx="448.4" cy="318.3" r="2.05"/><circle cx="453.4" cy="319.7" r="2.05"/><circle cx="458.4" cy="320.6" r="2.05"/><circle cx="463.4" cy="321.5" r="2.05"/><circle cx="468.4" cy="326.0" r="2.05"/><circle cx="473.4" cy="333.1" r="2.05"/><circle cx="478.5" cy="342.0" r="2.05"/><circle cx="483.5" cy="353.0" r="2.05"/><circle cx="488.5" cy="364.0" r="2.05"/><circle cx="493.5" cy="374.5" r="2.05"/><circle cx="498.5" cy="385.0" r="2.05"/><circle cx="503.5" cy="395.0" r="2.05"/><circle cx="508.5" cy="404.0" r="2.05"/><circle cx="513.6" cy="411.0" r="2.05"/><circle cx="518.6" cy="416.0" r="2.05"/><circle cx="523.6" cy="421.5" r="2.05"/><circle cx="528.6" cy="429.0" r="2.05"/><circle cx="533.6" cy="438.5" r="2.05"/><circle cx="538.6" cy="444.3" r="2.05"/><circle cx="543.6" cy="453.0" r="2.05"/><circle cx="548.7" cy="463.2" r="2.05"/><circle cx="553.7" cy="472.1" r="2.05"/><circle cx="558.7" cy="478.4" r="2.05"/><circle cx="563.7" cy="482.8" r="2.05"/><circle cx="568.7" cy="486.9" r="2.05"/><circle cx="573.7" cy="490.8" r="2.05"/><circle cx="578.7" cy="492.6" r="2.05"/><circle cx="583.8" cy="494.7" r="2.05"/><circle cx="588.8" cy="498.8" r="2.05"/><circle cx="593.8" cy="504.2" r="2.05"/><circle cx="598.8" cy="510.4" r="2.05"/><circle cx="603.8" cy="517.7" r="2.05"/><circle cx="608.8" cy="523.3" r="2.05"/><circle cx="613.8" cy="526.0" r="2.05"/><circle cx="618.9" cy="527.7" r="2.05"/><circle cx="623.9" cy="529.5" r="2.05"/><circle cx="628.9" cy="530.9" r="2.05"/><circle cx="633.9" cy="531.3" r="2.05"/><circle cx="638.9" cy="526.8" r="2.05"/><circle cx="643.9" cy="523.0" r="2.05"/><circle cx="648.9" cy="522.0" r="2.05"/><circle cx="654.0" cy="521.9" r="2.05"/><circle cx="659.0" cy="508.0" r="2.05"/><circle cx="664.0" cy="455.8" r="2.05"/><circle cx="669.0" cy="408.0" r="2.05"/><circle cx="674.0" cy="369.8" r="2.05"/><circle cx="679.0" cy="341.3" r="2.05"/><circle cx="684.0" cy="317.6" r="2.05"/><circle cx="689.0" cy="296.1" r="2.05"/><circle cx="694.1" cy="289.8" r="2.05"/><circle cx="699.1" cy="321.8" r="2.05"/><circle cx="704.1" cy="340.8" r="2.05"/><circle cx="709.1" cy="360.5" r="2.05"/><circle cx="714.1" cy="373.3" r="2.05"/><circle cx="719.1" cy="376.6" r="2.05"/><circle cx="724.1" cy="381.7" r="2.05"/><circle cx="729.2" cy="387.0" r="2.05"/><circle cx="734.2" cy="395.0" r="2.05"/><circle cx="739.2" cy="412.4" r="2.05"/><circle cx="744.2" cy="421.8" r="2.05"/><circle cx="749.2" cy="431.6" r="2.05"/><circle cx="754.2" cy="444.0" r="2.05"/><circle cx="759.2" cy="455.6" r="2.05"/><circle cx="764.3" cy="467.2" r="2.05"/><circle cx="769.3" cy="472.5" r="2.05"/><circle cx="774.3" cy="477.0" r="2.05"/><circle cx="779.3" cy="484.1" r="2.05"/><circle cx="784.3" cy="492.0" r="2.05"/><circle cx="789.3" cy="498.3" r="2.05"/><circle cx="794.3" cy="502.7" r="2.05"/><circle cx="799.4" cy="503.6" r="2.05"/><circle cx="804.4" cy="507.2" r="2.05"/><circle cx="809.4" cy="509.0" r="2.05"/><circle cx="814.4" cy="508.1" r="2.05"/><circle cx="819.4" cy="505.4" r="2.05"/><circle cx="824.4" cy="505.4" r="2.05"/><circle cx="829.4" cy="504.5" r="2.05"/><circle cx="834.5" cy="504.0" r="2.05"/><circle cx="839.5" cy="504.0" r="2.05"/><circle cx="844.5" cy="509.0" r="2.05"/><circle cx="849.5" cy="512.5" r="2.05"/><circle cx="854.5" cy="514.3" r="2.05"/><circle cx="859.5" cy="514.3" r="2.05"/><circle cx="864.5" cy="513.4" r="2.05"/><circle cx="869.6" cy="512.5" r="2.05"/><circle cx="874.6" cy="510.9" r="2.05"/><circle cx="879.6" cy="503.3" r="2.05"/><circle cx="884.6" cy="497.0" r="2.05"/><circle cx="889.6" cy="490.0" r="2.05"/><circle cx="894.6" cy="483.3" r="2.05"/><circle cx="899.6" cy="477.7" r="2.05"/><circle cx="904.7" cy="476.0" r="2.05"/><circle cx="909.7" cy="475.2" r="2.05"/><circle cx="914.7" cy="475.3" r="2.05"/><circle cx="919.7" cy="475.0" r="2.05"/><circle cx="924.7" cy="472.5" r="2.05"/><circle cx="929.7" cy="468.3" r="2.05"/><circle cx="934.7" cy="462.7" r="2.05"/><circle cx="939.8" cy="453.3" r="2.05"/><circle cx="944.8" cy="444.7" r="2.05"/><circle cx="949.8" cy="434.4" r="2.05"/><circle cx="954.8" cy="423.0" r="2.05"/><circle cx="959.8" cy="415.7" r="2.05"/><circle cx="964.8" cy="411.4" r="2.05"/><circle cx="969.8" cy="409.2" r="2.05"/><circle cx="974.8" cy="407.7" r="2.05"/><circle cx="979.9" cy="406.5" r="2.05"/><circle cx="984.9" cy="405.6" r="2.05"/><circle cx="989.9" cy="404.7" r="2.05"/><circle cx="994.9" cy="402.0" r="2.05"/><circle cx="999.9" cy="400.3" r="2.05"/><circle cx="1004.9" cy="398.1" r="2.05"/><circle cx="1009.9" cy="395.8" r="2.05"/></g>
<line x1="4.8" y1="54.1" x2="32.7" y2="54.1" stroke="#08345a" stroke-width="5.8" stroke-linecap="round"/>
<text x="44.3" y="59" class="lg" textLength="141.5" lengthAdjust="spacingAndGlyphs">Varsinais-Suomi</text>
<line x1="210" y1="54.1" x2="238.5" y2="54.1" stroke="#f4926f" stroke-width="5.8" stroke-linecap="round"/>
<text x="250.2" y="59" class="lg" textLength="83.5" lengthAdjust="spacingAndGlyphs">Koko maa</text>
<text x="1" y="24" class="t1" textLength="357" lengthAdjust="spacingAndGlyphs">Työttömyysasteen kehitys</text>
<text x="364" y="24" class="t2" textLength="402" lengthAdjust="spacingAndGlyphs">(%, trendikehitys paksulla viivalla)</text>
</svg>
</body></html>
